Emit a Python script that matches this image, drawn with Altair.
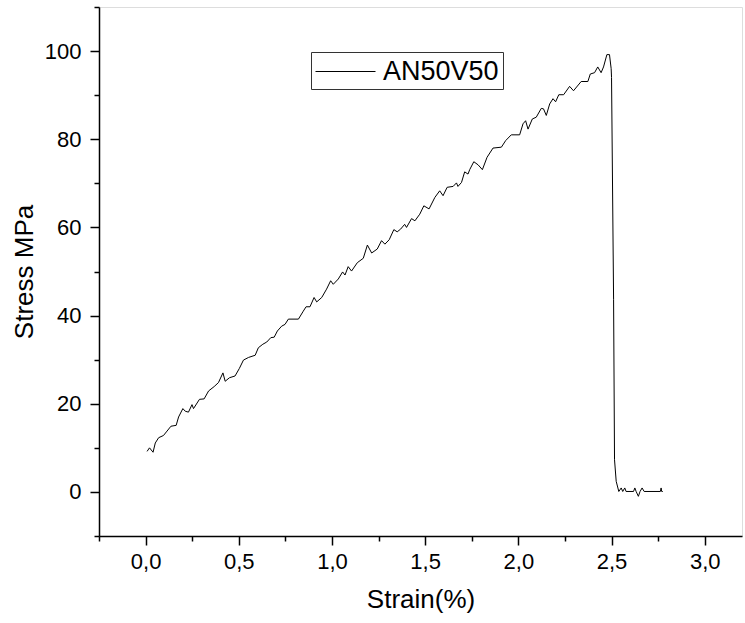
import altair as alt
import pandas as pd

series_name = "AN50V50"

strain = [0.008, 0.021, 0.04, 0.052, 0.07, 0.096, 0.115, 0.136, 0.164, 0.177,
          0.2, 0.213, 0.23, 0.249, 0.257, 0.289, 0.314, 0.338, 0.368, 0.391,
          0.415, 0.427, 0.45, 0.48, 0.503, 0.525, 0.552, 0.588, 0.605, 0.629,
          0.65, 0.672, 0.69, 0.707, 0.73, 0.748, 0.766, 0.82, 0.846, 0.861,
          0.882, 0.904, 0.918, 0.945, 0.971, 0.993, 1.007, 1.034, 1.057, 1.07,
          1.087, 1.105, 1.136, 1.168, 1.19, 1.213, 1.243, 1.266, 1.284, 1.307,
          1.332, 1.35, 1.368, 1.39, 1.40, 1.427, 1.445, 1.471, 1.493, 1.521,
          1.552, 1.578, 1.596, 1.618, 1.65, 1.668, 1.676, 1.695, 1.712, 1.73,
          1.739, 1.761, 1.784, 1.807, 1.832, 1.864, 1.909, 1.932, 1.962, 2.007,
          2.025, 2.039, 2.052, 2.075, 2.096, 2.123, 2.135, 2.15, 2.168, 2.186,
          2.2, 2.217, 2.243, 2.275, 2.296, 2.337, 2.373, 2.386, 2.409, 2.426,
          2.444, 2.457, 2.475, 2.489, 2.498, 2.50, 2.511, 2.516, 2.525, 2.539,
          2.552, 2.56, 2.571, 2.578, 2.618, 2.625, 2.632, 2.644, 2.653, 2.664,
          2.675, 2.762, 2.766, 2.769, 2.775]

stress = [9.2, 10.0, 9.0, 11.1, 12.3, 12.8, 13.8, 14.9, 15.1, 17.0,
          18.9, 18.3, 18.1, 19.8, 18.9, 21.0, 21.1, 22.9, 23.9, 24.8,
          27.0, 25.1, 25.9, 26.3, 28.0, 29.9, 30.5, 31.0, 32.7, 33.5,
          34.0, 35.0, 35.1, 36.5, 37.6, 38.0, 39.2, 39.2, 41.0, 42.0,
          42.0, 44.1, 43.1, 44.1, 46.0, 47.9, 47.1, 48.3, 49.9, 49.2,
          51.1, 50.1, 52.0, 53.0, 56.0, 54.2, 55.1, 57.0, 56.2, 57.2,
          59.5, 59.0, 59.6, 60.7, 60.0, 62.0, 61.5, 63.0, 64.9, 64.2,
          66.8, 68.3, 67.2, 69.1, 69.3, 70.1, 69.3, 70.2, 72.6, 72.1,
          73.1, 74.9, 74.2, 73.1, 75.9, 78.0, 78.2, 79.7, 81.0, 81.0,
          83.5, 84.2, 82.3, 84.6, 85.0, 87.0, 86.9, 85.4, 88.0, 89.2,
          88.5, 90.1, 90.1, 92.0, 91.0, 93.1, 93.1, 94.8, 95.1, 96.4,
          95.1, 96.4, 99.2, 99.2, 96.0, 94.0, 43.7, 7.3, 2.4, 0.1,
          0.9, 0.1, 0.9, 0.1, 0.1, 0.9, 0.1, -1.0, 0.1, 0.9,
          0.1, 0.1, 0.9, 0.1, 0.1]

x_major = [0.0, 0.5, 1.0, 1.5, 2.0, 2.5, 3.0]
x_minor = [-0.25, 0.25, 0.75, 1.25, 1.75, 2.25, 2.75]
y_major = [0, 20, 40, 60, 80, 100]
y_minor = [-10, 10, 30, 50, 70, 90, 110]

df = pd.DataFrame({"strain": strain, "stress": stress, "series": series_name})
df["idx"] = range(len(df))

FONT = "Liberation Sans"
xs = alt.Scale(domain=[-0.25, 3.2], nice=False, zero=False)
ys = alt.Scale(domain=[-10, 110], nice=False, zero=False)

main = alt.Chart(df).mark_line(strokeWidth=1, color="black").encode(
    x=alt.X("strain:Q", scale=xs, axis=alt.Axis(
        values=x_major, orient="bottom", title="Strain(%)",
        labelExpr="replace(format(datum.value, '.1f'), '.', ',')",
        tickSize=9, tickWidth=1.5, domainWidth=1.5, domainColor="black",
        tickColor="black", labelFont=FONT, labelFontSize=22, labelColor="black",
        labelPadding=6, titleFont=FONT, titleFontSize=26, titleFontWeight="normal",
        titleColor="black", titlePadding=14, grid=False, labelFlush=False)),
    y=alt.Y("stress:Q", scale=ys, axis=alt.Axis(
        values=y_major, orient="left", title="Stress MPa",
        tickSize=9, tickWidth=1.5, domainWidth=1.5, domainColor="black",
        tickColor="black", labelFont=FONT, labelFontSize=22, labelColor="black",
        labelPadding=9, titleFont=FONT, titleFontSize=26, titleFontWeight="normal",
        titleColor="black", titlePadding=7, grid=False, labelFlush=False)),
    color=alt.Color("series:N", scale=alt.Scale(range=["black"]), legend=alt.Legend(
        title=None, orient="none", legendX=212, legendY=45,
        symbolType="M-1,0H3", symbolSize=900, symbolStrokeWidth=1,
        symbolStrokeColor="black", labelFont=FONT, labelFontSize=27,
        labelColor="black", labelOffset=37, strokeColor="#333333",
        padding=4, cornerRadius=0)),
    order="idx:Q",
)

minor = alt.Chart(df).mark_line(opacity=0).encode(
    x=alt.X("strain:Q", scale=xs, axis=alt.Axis(
        values=x_minor, orient="bottom", title="", labels=False, domain=False,
        tickSize=5, tickWidth=1.5, tickColor="black", grid=False)),
    y=alt.Y("stress:Q", scale=ys, axis=alt.Axis(
        values=y_minor, orient="left", title="", labels=False, domain=False,
        tickSize=5, tickWidth=1.5, tickColor="black", grid=False)),
)

chart = alt.layer(main, minor).resolve_axis(x="independent", y="independent").properties(
    width=643, height=529,
    autosize=alt.AutoSizeParams(type="none"),
    padding={"left": 99, "top": 7, "right": 3, "bottom": 87},
).configure_view(strokeWidth=0).configure(background="white")

chart.save("out.html", embed_options={"renderer": "svg", "actions": False})
